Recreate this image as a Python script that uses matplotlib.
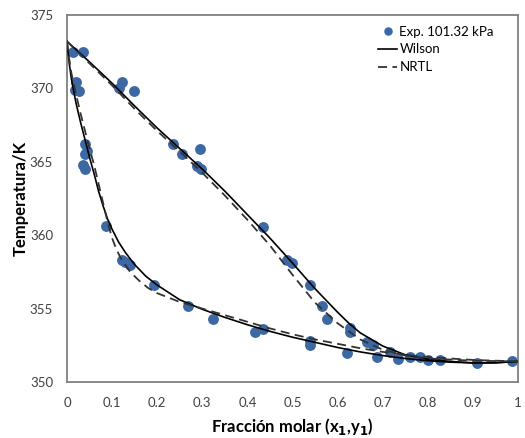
import matplotlib.pyplot as plt

plt.rcParams['font.family'] = ['Lato', 'DejaVu Sans']

# Datos experimentales (fase liquida, x1)
x_exp = [0.020, 0.018, 0.027, 0.040, 0.045, 0.040, 0.036, 0.040, 0.086, 0.121,
         0.128, 0.140, 0.193, 0.269, 0.323, 0.417, 0.435, 0.539, 0.539, 0.620,
         0.687, 0.735, 0.800, 0.827, 0.908, 0.986]
T_x_exp = [370.46, 369.9, 369.8, 366.2, 365.75, 365.5, 364.8, 364.5, 360.6, 358.3,
           358.2, 357.97, 356.6, 355.2, 354.3, 353.4, 353.6, 352.8, 352.5, 351.95,
           351.7, 351.57, 351.5, 351.5, 351.3, 351.4]

# Datos experimentales (fase vapor, y1)
y_exp = [0.014, 0.036, 0.116, 0.123, 0.149, 0.234, 0.256, 0.289, 0.297, 0.296,
         0.435, 0.487, 0.498, 0.539, 0.565, 0.576, 0.627, 0.627, 0.665, 0.679,
         0.716, 0.760, 0.783]
T_y_exp = [372.5, 372.5, 370.0, 370.46, 369.85, 366.2, 365.5, 364.7, 364.5, 365.9,
           360.58, 358.3, 358.1, 356.6, 355.2, 354.3, 353.7, 353.4, 352.75, 352.5,
           352.06, 351.7, 351.7]

# Wilson - curva de burbuja
xw_b = [0, 0.005, 0.01, 0.02, 0.03, 0.04, 0.05, 0.06, 0.07, 0.08, 0.09, 0.10, 0.115,
        0.13, 0.15, 0.175, 0.20, 0.25, 0.30, 0.35, 0.40, 0.45, 0.50, 0.55, 0.60,
        0.65, 0.70, 0.75, 0.80, 0.85, 0.90, 0.95, 1.0]
Tw_b = [373.2, 371.7, 370.6, 369.0, 367.7, 366.5, 365.3, 364.2, 363.0, 362.0, 361.1,
        360.4, 359.5, 358.8, 358.0, 357.2, 356.6, 355.6, 354.95, 354.4, 353.9, 353.45,
        353.05, 352.7, 352.35, 352.05, 351.8, 351.6, 351.45, 351.35, 351.3, 351.32, 351.4]

# NRTL - curva de burbuja
xn_b = [0, 0.005, 0.01, 0.02, 0.03, 0.04, 0.05, 0.06, 0.07, 0.08, 0.09, 0.10, 0.11,
        0.12, 0.14, 0.16, 0.18, 0.20, 0.25, 0.30, 0.35, 0.40, 0.45, 0.50, 0.55, 0.60,
        0.65, 0.70, 0.75, 0.80, 0.85, 0.90, 0.95, 1.0]
Tn_b = [373.2, 372.0, 371.0, 369.6, 368.3, 367.1, 365.9, 364.8, 363.5, 362.2, 360.9,
        359.8, 359.0, 358.4, 357.5, 356.9, 356.4, 356.05, 355.45, 355.0, 354.55, 354.1,
        353.65, 353.25, 352.9, 352.6, 352.3, 352.05, 351.85, 351.7, 351.6, 351.5,
        351.45, 351.4]

# Wilson - curva de rocio
yw_d = [0, 0.05, 0.10, 0.15, 0.20, 0.25, 0.30, 0.35, 0.40, 0.45, 0.50, 0.55, 0.60,
        0.625, 0.65, 0.70, 0.75, 0.80, 0.85, 0.90, 0.95, 1.0]
Tw_d = [373.2, 371.8, 370.35, 368.8, 367.3, 365.9, 364.5, 363.0, 361.4, 359.8, 358.1,
        356.35, 354.75, 354.0, 353.35, 352.45, 351.85, 351.55, 351.4, 351.3, 351.3, 351.4]

# NRTL - curva de rocio
yn_d = [0, 0.05, 0.10, 0.15, 0.20, 0.25, 0.30, 0.35, 0.40, 0.45, 0.50, 0.55, 0.60,
        0.65, 0.70, 0.75, 0.80, 0.90, 1.0]
Tn_d = [373.2, 371.7, 370.2, 368.6, 367.1, 365.7, 364.25, 362.7, 361.05, 359.3, 357.3,
        355.4, 354.0, 352.9, 352.2, 351.8, 351.6, 351.45, 351.4]

fig = plt.figure(figsize=(5.25, 4.38), dpi=100)
ax = fig.add_axes([0.1276, 0.1279, 0.8591, 0.8379])

ax.plot(x_exp + y_exp, T_x_exp + T_y_exp, 'o', color='#3c68a3', ms=6.8,
        label='Exp. 101.32 kPa', zorder=2)
ax.plot(xw_b, Tw_b, '-', color='black', lw=1.2, label='Wilson', zorder=3)
ax.plot(yw_d, Tw_d, '-', color='black', lw=1.2, zorder=3)
ax.plot(xn_b, Tn_b, '--', color='#333333', lw=1.3, dashes=(5, 3), label='NRTL', zorder=3)
ax.plot(yn_d, Tn_d, '--', color='#333333', lw=1.3, dashes=(5, 3), zorder=3)

ax.set_xlim(0, 1)
ax.set_ylim(350, 375)
ax.set_xticks([0, 0.1, 0.2, 0.3, 0.4, 0.5, 0.6, 0.7, 0.8, 0.9, 1])
ax.set_xticklabels(['0', '0.1', '0.2', '0.3', '0.4', '0.5', '0.6', '0.7', '0.8', '0.9', '1'])
ax.set_yticks([350, 355, 360, 365, 370, 375])
ax.tick_params(length=0, labelsize=9.5, colors='#404040')
ax.tick_params(axis='x', pad=11)
ax.tick_params(axis='y', pad=10)

for s in ax.spines.values():
    s.set_color('#808080')
    s.set_linewidth(1.3)

ax.set_xlabel('Fracción molar (x$_\\mathbf{1}$,y$_\\mathbf{1}$)', fontsize=12,
              fontweight='bold', labelpad=5)
ax.set_ylabel('Temperatura/K', fontsize=12, fontweight='bold', labelpad=1)

ax.legend(loc='upper right', frameon=False, fontsize=9.5, handlelength=1.4,
          handletextpad=0.2, borderaxespad=0.4, labelspacing=0.45,
          markerscale=0.75, bbox_to_anchor=(0.97, 1.0))

fig.savefig('out.png', dpi=100)
